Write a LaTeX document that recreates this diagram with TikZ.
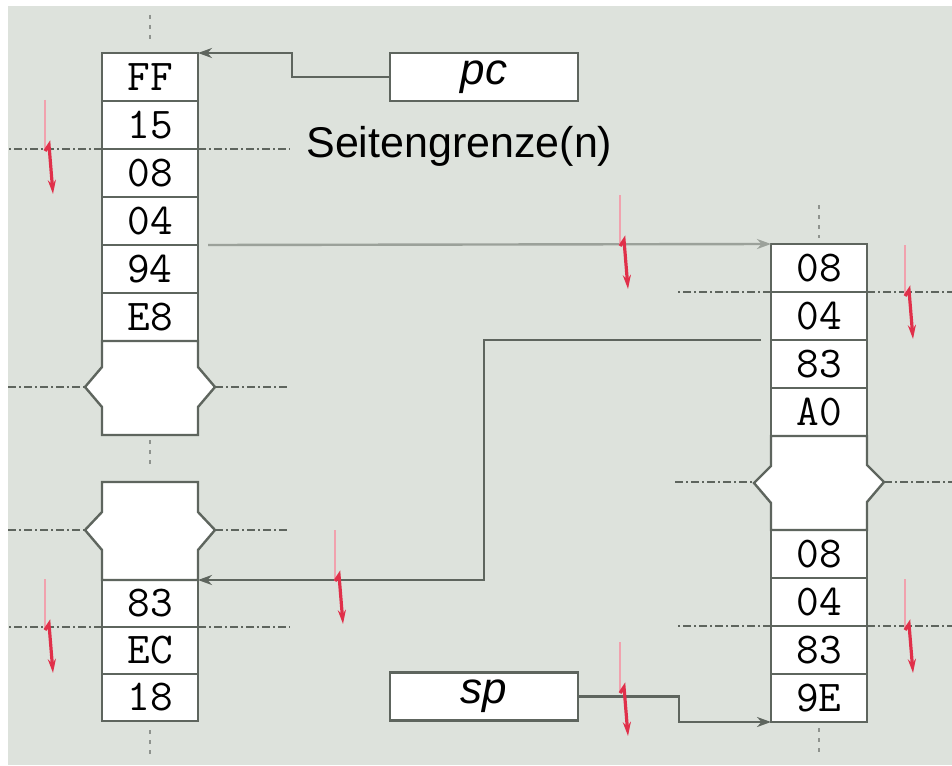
\documentclass[tikz,border=0pt]{standalone}
\usepackage{fontspec}
\setmainfont{Liberation Sans}
\usetikzlibrary{arrows.meta, positioning}
\definecolor{bggray}{HTML}{DDE2DC}
\definecolor{linegray}{HTML}{5E655E}
\definecolor{lightline}{HTML}{9BA19A}
\definecolor{markred}{HTML}{E0304A}

\begin{document}
\begin{tikzpicture}[x=0.5pt, y=-0.5pt,
    cell/.style={draw=linegray, fill=white, line width=1.2pt, inner sep=0pt, outer sep=0pt,
                 minimum width=48pt, minimum height=#1,
                 font=\ttfamily\fontsize{22}{22}\selectfont},
    cell/.default=24pt,
    regbox/.style={draw=linegray, fill=white, line width=1.2pt, inner sep=0pt,
                   minimum width=94pt, minimum height=24pt,
                   font=\itshape\fontsize{22}{22}\selectfont},
    brk/.style={draw=linegray, fill=white, line width=1.2pt},
    guide/.style={linegray, line width=1pt, dash pattern=on 4pt off 1.5pt on 1pt off 1.5pt},
    tick/.style={linegray!70, line width=1pt, dash pattern=on 2pt off 3pt},
    conn/.style={linegray, line width=1.2pt, -{Stealth[length=7pt, width=5pt]}},
]
    % Background
    \useasboundingbox (0,0) rectangle (952,765);
    \fill[white] (0,0) rectangle (952,765);
    \fill[bggray] (8,6) rectangle (952,765);

    % Left column, upper part
    \node[cell] (lff) at (150,77) {FF};
    \node[cell, below=0pt of lff] (l15) {15};
    \node[cell, below=0pt of l15] (l08) {08};
    \node[cell, below=0pt of l08] (l04) {04};
    \node[cell, below=0pt of l04] (l94) {94};
    \node[cell, below=0pt of l94] (le8) {E8};
    \draw[brk] (le8.south west) -- ++(0,26) -- ++(-17,20) -- ++(17,20) -- ++(0,28)
        -- ++(96,0) -- ++(0,-28) -- ++(17,-20) -- ++(-17,-20) -- (le8.south east) -- cycle;

    % Left column, lower part
    \node[cell=23.5pt] (l83) at (150,603.5) {83};
    \node[cell=23.5pt, below=0pt of l83] (lec) {EC};
    \node[cell=23.5pt, below=0pt of lec] (l18) {18};
    \draw[brk] (l83.north west) -- ++(0,-30) -- ++(-17,-20) -- ++(17,-18) -- ++(0,-30)
        -- ++(96,0) -- ++(0,30) -- ++(17,18) -- ++(-17,20) -- (l83.north east) -- cycle;

    % Right column
    \node[cell] (r08) at (819,268) {08};
    \node[cell, below=0pt of r08] (r04) {04};
    \node[cell, below=0pt of r04] (r83) {83};
    \node[cell, below=0pt of r83] (ra0) {A0};
    \node[cell] (r08b) at (819,554) {08};
    \node[cell, below=0pt of r08b] (r04b) {04};
    \node[cell, below=0pt of r04b] (r83b) {83};
    \node[cell, below=0pt of r83b] (r9e) {9E};
    \draw[brk] (ra0.south west) -- ++(0,30) -- ++(-17,17) -- ++(17,20) -- (r08b.north west)
        -- (r08b.north east) -- ++(0,-28) -- ++(17,-20) -- ++(-17,-17) -- (ra0.south east) -- cycle;

    % Registers
    \node[regbox] (pc) at (484,77) {pc};
    \node[regbox] (sp) at (484,696.5) {sp};
    \node[anchor=base west, inner sep=0pt, font=\fontsize{21.5}{21.5}\selectfont] (sg) at (306,157) {Seitengrenze(n)};

    % Page boundaries
    \draw[guide] (l15.south west) -- ++(-94,0);
    \draw[guide] (l15.south east) -- ++(92,0);
    \draw[guide] (8,387) -- (85,387);
    \draw[guide] (215,387) -- (290,387);
    \draw[guide] (8,530) -- (85,530);
    \draw[guide] (215,530) -- (290,530);
    \draw[guide] (l83.south west) -- ++(-94,0);
    \draw[guide] (l83.south east) -- ++(92,0);
    \draw[guide] (r08.south west) -- ++(-96,0);
    \draw[guide] (r08.south east) -- ++(85,0);
    \draw[guide] (675,482) -- (754,482);
    \draw[guide] (884,482) -- (952,482);
    \draw[guide] (r04b.south west) -- ++(-96,0);
    \draw[guide] (r04b.south east) -- ++(85,0);

    % Continuation marks
    \draw[tick] (150,15) -- (150,42);
    \draw[tick] (150,440) -- (150,466);
    \draw[tick] (150,730) -- (150,758);
    \draw[tick] (819,205) -- (819,238);
    \draw[tick] (819,728) -- (819,756);

    % Pointers
    \draw[conn] (pc.west) -- ++(-97,0) |- (lff.north east);
    \draw[conn, lightline] ([xshift=5pt]l04.south east) -- (r08.north west);
    \draw[conn] ([xshift=-5pt]r04.south west) -- ++(-277,0) |- (l83.north east);
    \draw[conn] (sp.east) -- ++(100,0) |- (r9e.south west);

    % Page faults
    \foreach \x/\y in {45/148, 45/627, 905/293, 905/627, 620/243, 335/578, 620/690} {
        \draw[markred!45, line width=1.2pt] (\x,\y-48) -- (\x,\y+3);
        \draw[markred, line width=1.6pt, -{Stealth[length=7pt, width=4pt]}]
            (\x,\y+3) -- (\x+4,\y-3) -- (\x+8,\y+46);
    }
\end{tikzpicture}
\end{document}
